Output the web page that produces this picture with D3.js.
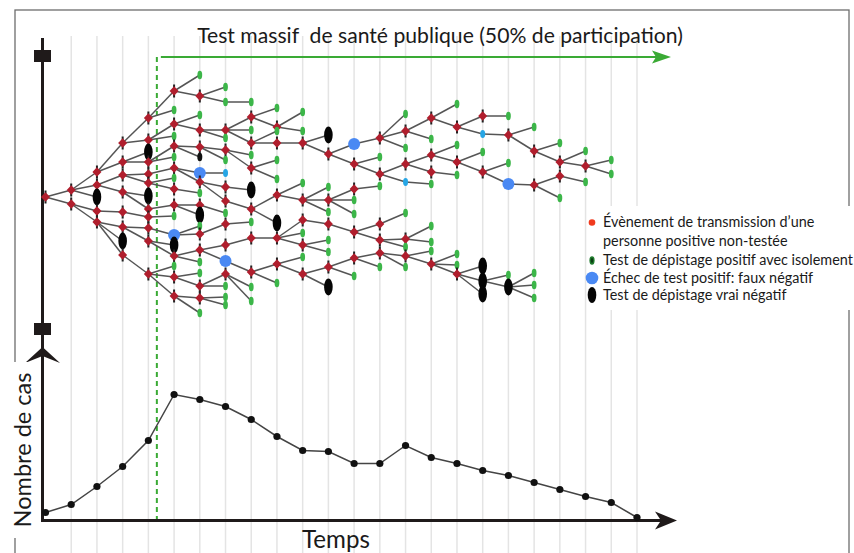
<!DOCTYPE html>
<html><head><meta charset="utf-8">
<script src="https://cdn.jsdelivr.net/npm/d3@7"></script>
<style>body{margin:0;background:#fff}svg{display:block}</style>
</head><body>
<script>
// ---------- DATA ----------
const timeSteps = [0,1,2,3,4,5,6,7,8,9,10,11,12,13,14,15,16,17,18,19,20,21,22,23];
const caseCounts = [8,16,34,54,80,126,121,114,101,84,70,69,57,57,75,63,57,50,45,38,31,24,18,3];
const testStart = 4.33; // time index where mass testing starts
const titleText = "Test massif  de santé publique (50% de participation)";
const yAxisLabel = "Nombre de cas";
const xAxisLabel = "Temps";
const legendLabels = [
  ["Évènement de transmission d’une","personne positive non-testée"],
  ["Test de dépistage positif avec isolement"],
  ["Échec de test positif: faux négatif"],
  ["Test de dépistage vrai négatif"]
];
const legendTypes = ["R","G","B","K"];
// R: transmission, G: positive test + isolation, B: false negative, b: small false negative,
// K: true negative, k: small true negative
// [time step, level, type, parent level in previous step]
const treeNodes = [
[0,197,'R',null],
[1,190,'R',197],[1,204,'R',197],
[2,172,'R',190],[2,185,'R',190],[2,197,'K',190],[2,211,'R',204],[2,222,'R',204],
[3,143,'R',172],[3,162,'R',172],[3,175,'R',185],[3,192,'R',185],[3,212,'R',211],[3,227,'R',222],[3,241,'K',222],[3,255,'R',222],
[4,118,'R',143],[4,140,'R',143],[4,152,'K',162],[4,162,'R',162],[4,174,'R',175],[4,183,'R',175],[4,196,'K',192],[4,209,'R',192],[4,217,'R',212],[4,228,'R',227],[4,241,'R',227],[4,274,'R',255],
[5,91,'R',118],[5,110,'G',118],[5,124,'R',140],[5,136,'G',140],[5,146,'R',162],[5,157,'G',162],[5,168,'R',174],[5,178,'G',183],[5,189,'R',183],[5,205,'R',209],[5,216,'G',217],[5,235,'B',228],[5,245,'K',241],[5,256,'R',241],[5,266,'G',274],[5,277,'R',274],[5,296,'R',274],
[6,75,'G',91],[6,96,'R',91],[6,115,'G',124],[6,130,'R',124],[6,147,'R',146],[6,157,'k',146],[6,173,'B',168],[6,182,'R',168],[6,193,'G',189],[6,205,'R',205],[6,215,'K',205],[6,226,'G',235],[6,234,'R',235],[6,250,'R',256],[6,262,'G',256],[6,273,'G',277],[6,286,'R',277],[6,298,'R',296],[6,313,'G',296],
[7,87,'G',96],[7,102,'G',96],[7,130,'R',130],[7,138,'G',130],[7,150,'R',147],[7,160,'G',147],[7,173,'b',173],[7,187,'R',182],[7,201,'R',182],[7,213,'G',205],[7,224,'R',234],[7,245,'R',250],[7,261,'B',250],[7,274,'R',286],[7,286,'G',286],[7,297,'G',298],[7,305,'G',298],
[8,102,'G',102],[8,117,'R',130],[8,130,'G',130],[8,143,'R',130],[8,155,'G',150],[8,168,'R',150],[8,190,'K',187],[8,209,'R',201],[8,222,'G',224],[8,238,'R',245],[8,272,'R',261],[8,287,'G',274],[8,301,'G',274],
[9,108,'G',117],[9,127,'R',117],[9,131,'G',143],[9,143,'R',143],[9,160,'G',168],[9,179,'G',168],[9,195,'R',209],[9,223,'K',209],[9,238,'R',238],[9,264,'R',272],[9,283,'G',272],
[10,112,'G',127],[10,131,'G',127],[10,143,'R',143],[10,183,'G',195],[10,200,'R',195],[10,220,'R',238],[10,233,'G',238],[10,245,'R',238],[10,257,'G',264],[10,274,'R',264],
[11,135,'K',143],[11,154,'R',143],[11,187,'G',200],[11,200,'R',200],[11,212,'G',200],[11,224,'R',220],[11,240,'G',245],[11,252,'G',245],[11,267,'R',274],[11,287,'K',274],
[12,144,'B',154],[12,164,'R',154],[12,189,'R',200],[12,200,'G',200],[12,214,'G',200],[12,232,'R',224],[12,258,'R',267],[12,276,'G',267],
[13,138,'R',144],[13,157,'G',164],[13,174,'R',164],[13,186,'G',189],[13,224,'R',232],[13,240,'R',232],[13,253,'R',258],[13,267,'G',258],
[14,114,'G',138],[14,131,'R',138],[14,148,'G',138],[14,164,'R',174],[14,182,'b',174],[14,213,'G',224],[14,239,'R',240],[14,247,'G',240],[14,256,'R',253],[14,267,'G',253],
[15,118,'R',131],[15,139,'G',131],[15,155,'R',164],[15,172,'R',164],[15,184,'G',182],[15,226,'G',239],[15,242,'G',239],[15,251,'G',256],[15,264,'R',256],
[16,104,'G',118],[16,127,'R',118],[16,145,'G',155],[16,162,'R',155],[16,175,'G',172],[16,254,'G',264],[16,265,'G',264],[16,274,'R',264],
[17,116,'R',127],[17,134,'b',127],[17,152,'G',162],[17,172,'R',162],[17,266,'K',274],[17,281,'K',274],[17,294,'K',274],
[18,116,'G',116],[18,135,'R',134],[18,163,'G',172],[18,184,'B',172],[18,275,'G',281],[18,287,'K',281],
[19,127,'G',135],[19,151,'R',135],[19,185,'R',184],[19,273,'G',287],[19,285,'G',287],[19,298,'G',287],
[20,143,'G',151],[20,162,'R',151],[20,176,'R',185],[20,198,'G',185],
[21,151,'G',162],[21,166,'R',162],[21,182,'G',176],
[22,160,'G',166],[22,174,'G',166]
];

// ---------- DRAW ----------
const W = 854, H = 553;
const svg = d3.select("body").append("svg").attr("width", W).attr("height", H)
  .style("font-family", "Lato, 'Open Sans', sans-serif");

const x = d3.scaleLinear().domain([0, 23]).range([45.5, 637]);
const yCases = d3.scaleLinear().domain([0, 130]).range([520.5, 390.5]);
const yTree = d3.scaleLinear().domain([60, 320]).range([60, 320]);

// frame
svg.append("rect").attr("x", 15).attr("y", 10).attr("width", 834).attr("height", 600)
  .attr("fill", "none").attr("stroke", "#6d6d6d").attr("stroke-width", 1.3);

// grid
svg.append("g").selectAll("line").data(timeSteps.slice(1)).join("line")
  .attr("x1", d => x(d)).attr("x2", d => x(d)).attr("y1", 36).attr("y2", H)
  .attr("stroke", "#e4e4e4").attr("stroke-width", 1.5);

// legend background (covers grid)
svg.append("rect").attr("x", 588).attr("y", 206).attr("width", 266).attr("height", 104).attr("fill", "#fff");

// mass test markers
const green = "#3aaa35";
svg.append("line").attr("x1", x(testStart)).attr("x2", x(testStart)).attr("y1", 57).attr("y2", 520)
  .attr("stroke", green).attr("stroke-width", 2).attr("stroke-dasharray", "5,4");
svg.append("line").attr("x1", x(testStart) + 4).attr("x2", 660).attr("y1", 57).attr("y2", 57)
  .attr("stroke", green).attr("stroke-width", 2.2);
svg.append("path").attr("d", "M671,57 L652,50.5 L656,57 L652,63.5 Z").attr("fill", green);

// title
function fit(sel, width) {
  sel.style("font-size", "20px");
  const l = sel.node().getComputedTextLength();
  sel.style("font-size", (20 * width / l) + "px");
}
const title = svg.append("text").attr("x", 440).attr("y", 43).attr("text-anchor", "middle")
  .style("white-space", "pre").attr("fill", "#1a1a1a").text(titleText);
fit(title, 486);

// axes
const ink = "#1f1a1a";
svg.append("line").attr("x1", 42.5).attr("x2", 42.5).attr("y1", 38).attr("y2", 521.5).attr("stroke", ink).attr("stroke-width", 3);
svg.append("line").attr("x1", 41).attr("x2", 664).attr("y1", 520.5).attr("y2", 520.5).attr("stroke", ink).attr("stroke-width", 3);
svg.append("path").attr("d", "M677,520.5 L655,511.5 L661,520.5 L655,529.5 Z").attr("fill", ink);
svg.append("path").attr("d", "M42.5,347 L25,363 L42.5,356 L60,363 Z").attr("fill", ink);
svg.append("rect").attr("x", 34).attr("y", 50).attr("width", 17).attr("height", 12).attr("fill", ink);
svg.append("rect").attr("x", 34).attr("y", 323).attr("width", 17).attr("height", 12).attr("fill", ink);

// axis labels
svg.append("rect").attr("x", 8).attr("y", 362).attr("width", 30).attr("height", 176).attr("fill", "#fff");
const yl = svg.append("text").attr("transform", "translate(31,450) rotate(-90)").attr("text-anchor", "middle")
  .attr("fill", "#1a1a1a").text(yAxisLabel);
fit(yl, 155);
const xl = svg.append("text").attr("x", 336).attr("y", 548).attr("text-anchor", "middle")
  .attr("fill", "#1a1a1a").text(xAxisLabel);
fit(xl, 68);

// tree edges
const byKey = new Map(treeNodes.map(n => [n[0] + ":" + n[1], n]));
const edges = treeNodes.filter(n => n[3] !== null).map(n => [byKey.get((n[0] - 1) + ":" + n[3]), n]).filter(e => e[0]);
svg.append("g").selectAll("line").data(edges).join("line")
  .attr("x1", e => x(e[0][0])).attr("y1", e => yTree(e[0][1]))
  .attr("x2", e => x(e[1][0])).attr("y2", e => yTree(e[1][1]))
  .attr("stroke", "#555").attr("stroke-width", 1.5);

// tree nodes
function drawNode(g, type) {
  if (type === "R") {
    g.append("line").attr("x1", 0).attr("x2", 0).attr("y1", -6.5).attr("y2", 6.5).attr("stroke", "#222").attr("stroke-width", 2);
    g.append("path").attr("d", "M0,-4.8 L4.5,0 L0,4.8 L-4.5,0 Z").attr("fill", "#b01e2d");
  } else if (type === "G") {
    g.append("ellipse").attr("rx", 2.4).attr("ry", 4.2).attr("fill", "#3cb649");
  } else if (type === "B") {
    g.append("circle").attr("r", 6).attr("fill", "#4a89f3");
  } else if (type === "b") {
    g.append("ellipse").attr("rx", 2.5).attr("ry", 4).attr("fill", "#27a6e5");
  } else if (type === "K") {
    g.append("ellipse").attr("rx", 4.3).attr("ry", 8.5).attr("fill", "#050505");
  } else if (type === "k") {
    g.append("ellipse").attr("rx", 2.5).attr("ry", 4.2).attr("fill", "#111");
  }
}
svg.append("g").selectAll("g").data(treeNodes).join("g")
  .attr("transform", d => `translate(${x(d[0])},${yTree(d[1])})`)
  .each(function (d) { drawNode(d3.select(this), d[2]); });

// legend
const lg = svg.append("g");
const rows = [222.5, 260.5, 278, 295];
legendLabels.forEach((lines, i) => {
  const t = legendTypes[i];
  const g = lg.append("g").attr("transform", `translate(592,${rows[i]})`);
  if (t === "R") g.append("circle").attr("r", 3.3).attr("fill", "#f03a1e");
  if (t === "G") { g.append("ellipse").attr("rx", 2.6).attr("ry", 4.2).attr("fill", "#1f7a2c"); g.append("ellipse").attr("rx", 1.2).attr("ry", 2.4).attr("fill", "#0b3d14"); }
  if (t === "B") g.append("circle").attr("r", 6.3).attr("fill", "#4a89f3");
  if (t === "K") g.append("ellipse").attr("rx", 4.3).attr("ry", 8).attr("fill", "#050505");
  lines.forEach((s, j) => {
    const tx = lg.append("text").attr("x", 603).attr("y", rows[i] + 4.5 + j * 19).attr("fill", "#1a1a1a").text(s);
    tx.style("font-size", "13.6px");
  });
});
const probe = lg.selectAll("text").filter(function () { return this.textContent === legendLabels[1][0]; });
const pl = probe.node().getComputedTextLength();
lg.selectAll("text").style("font-size", (13.6 * 250 / pl) + "px");

// case counts
svg.append("path").datum(caseCounts)
  .attr("d", d3.line().x((d, i) => x(timeSteps[i])).y(d => yCases(d)))
  .attr("fill", "none").attr("stroke", "#444").attr("stroke-width", 1.5);
svg.append("g").selectAll("circle").data(caseCounts).join("circle")
  .attr("cx", (d, i) => x(timeSteps[i])).attr("cy", d => yCases(d)).attr("r", 3.6).attr("fill", "#111");
</script>
</body></html>
